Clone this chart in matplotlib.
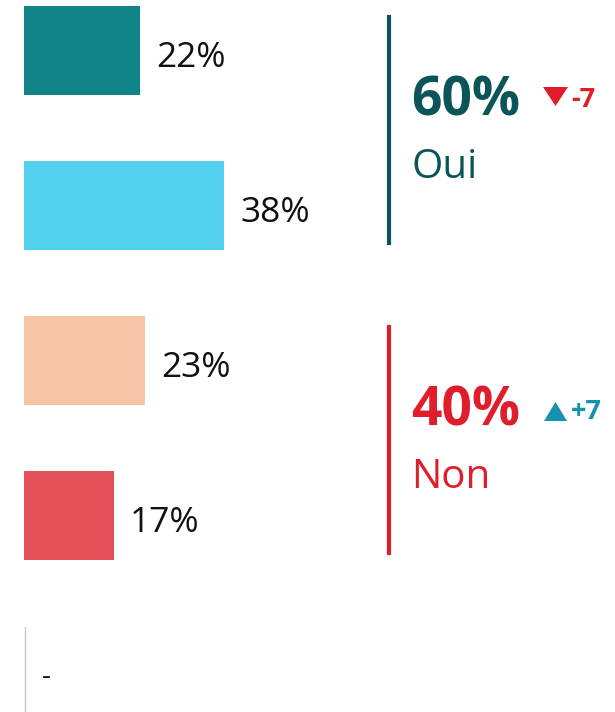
import matplotlib
matplotlib.use("Agg")
import matplotlib.pyplot as plt
from matplotlib.patches import Polygon
from matplotlib.lines import Line2D

# ---- data ----
categories = ["Oui, tout à fait", "Oui, plutôt", "Non, plutôt pas", "Non, pas du tout"]
values = [22, 38, 23, 17]
bar_colors = ["#108488", "#53D0EE", "#F7C4A5", "#E45058"]
groups = ["Oui", "Non"]
group_totals = [60, 40]
group_deltas = [-7, +7]
group_colors = ["#0B5558", "#E01E2B"]
delta_colors = ["#E01E2B", "#1592AE"]
missing_label = "-"

W, H = 615, 712
DPI = 100
FONT = "Open Sans"
plt.rcParams["font.family"] = [FONT, "DejaVu Sans"]

fig = plt.figure(figsize=(W / DPI, H / DPI), dpi=DPI)
fig.patch.set_facecolor("white")

def fx(px):
    return px / W

def fy(py):
    return 1 - py / H

# Bars axis: pixel x = 24 + ppv*value ; pixel y center = 50.5 + 155*i
ppv = 5.27
ax = fig.add_axes([0, 0, 1, 1])
ax.set_xlim(-24 / ppv, (W - 24) / ppv)
ax.set_ylim((H - 50.5) / 155, -50.5 / 155)
ax.axis("off")

ypos = list(range(len(values)))
ax.barh(ypos, values, height=89 / 155, color=bar_colors, left=0)
for y, v in zip(ypos, values):
    ax.annotate(f"{v}%", xy=(v, y), xytext=(16 * 0.72, -16.5 * 0.72),
                textcoords="offset points", ha="left", va="baseline",
                fontsize=25.5, color="#111111")

# missing category marker
fig.add_artist(Line2D([fx(24.5), fx(24.5)], [fy(627), fy(712)],
                      color="#c8c8c8", lw=1))
fig.text(fx(42), fy(684), missing_label, fontsize=20, color="#111111",
         ha="left", va="baseline")

# group summaries
line_spans = [(17, 243), (327, 553)]
pct_base = [115, 425]
name_base = [178, 488]
for gi in range(2):
    c = group_colors[gi]
    y0, y1 = line_spans[gi]
    fig.add_artist(Line2D([fx(389), fx(389)], [fy(y0), fy(y1)], color=c, lw=3))
    fig.text(fx(411), fy(pct_base[gi]), f"{group_totals[gi]}%", fontsize=38.5,
             fontweight="bold", color=c, ha="left", va="baseline")
    fig.text(fx(411), fy(name_base[gi]), groups[gi], fontsize=29,
             color=c, ha="left", va="baseline")
    d = group_deltas[gi]
    dc = delta_colors[gi]
    if d < 0:
        tri = [(543, 87), (568, 87), (555.5, 106)]
        tb = 107
    else:
        tri = [(544, 421), (567, 421), (555.5, 402)]
        tb = 419
    fig.add_artist(Polygon([(fx(a), fy(b)) for a, b in tri], closed=True,
                           facecolor=dc, edgecolor="none",
                           transform=fig.transFigure))
    fig.text(fx(571), fy(tb), f"{d:+d}", fontsize=19.5, fontweight="bold",
             color=dc, ha="left", va="baseline")

fig.savefig("out.png", dpi=DPI, facecolor="white")
